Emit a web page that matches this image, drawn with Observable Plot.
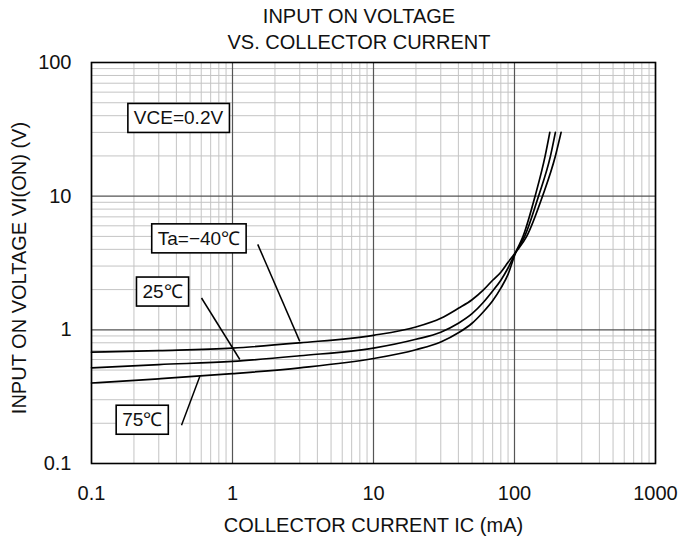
<!DOCTYPE html>
<html><head><meta charset="utf-8">
<script src="https://cdn.jsdelivr.net/npm/d3@7"></script>
<script src="https://cdn.jsdelivr.net/npm/@observablehq/plot@0.6"></script>
<style>
body{margin:0;background:#fff;font-family:"Liberation Sans",Arial,sans-serif;}
#wrap{position:relative;width:681px;height:544px;overflow:hidden;}
#title{position:absolute;left:0;top:3px;width:718px;text-align:center;font-size:20px;line-height:26px;color:#111;}
#chart{position:absolute;left:0;top:50px;}
</style></head><body>
<div id="wrap"><div id="title">INPUT ON VOLTAGE<br>VS. COLLECTOR CURRENT</div><div id="chart"></div></div>
<script>
// Series: collector current IC (mA) and input on voltage VI(ON) (V)
const seriesNames = ["Ta=−40℃", "25℃", "75℃"];
const currentM40 = [0.1, 0.3, 1, 3, 10, 20, 30, 40, 50, 60, 70, 80, 90, 102, 122, 158, 195, 214];
const voltM40    = [0.68, 0.70, 0.73, 0.80, 0.91, 1.05, 1.22, 1.45, 1.68, 1.98, 2.35, 2.7, 3.2, 3.8, 5.0, 10, 20, 30];
const current25  = [0.1, 0.3, 1, 3, 10, 20, 30, 40, 50, 60, 70, 80, 90, 102, 118, 148, 180, 195];
const volt25     = [0.52, 0.55, 0.58, 0.64, 0.73, 0.85, 0.96, 1.12, 1.32, 1.6, 1.95, 2.35, 2.9, 3.8, 5.0, 10, 20, 30];
const current75  = [0.1, 0.3, 1, 3, 10, 20, 30, 40, 50, 60, 70, 80, 90, 102, 115, 140, 165, 178];
const volt75     = [0.40, 0.43, 0.47, 0.52, 0.61, 0.71, 0.81, 0.95, 1.12, 1.36, 1.65, 2.05, 2.6, 3.8, 5.0, 10, 20, 30];

// Axis ticks
const xTicks = [0.1, 1, 10, 100, 1000];
const yTicks = [0.1, 1, 10, 100];
const xDecades = [0.1, 1, 10, 100];
const yDecades = [0.1, 1, 10];
const minorSteps = [2, 3, 4, 5, 6, 7, 8, 9];

// Annotations
const labelText = ["VCE=0.2V", "Ta=−40℃", "25℃", "75℃"];
const labelI = [0.414, 0.578, 0.319, 0.229];
const labelV = [38.2, 4.8, 1.92, 0.211];
const leaderI1 = [1.51, 0.603, 0.435];
const leaderV1 = [4.36, 1.73, 0.193];
const leaderI2 = [3.0, 1.127, 0.587];
const leaderV2 = [0.82, 0.60, 0.449];

const rows = [];
[[currentM40, voltM40], [current25, volt25], [current75, volt75]].forEach(([cs, vs], k) => {
  cs.forEach((c, i) => rows.push({series: seriesNames[k], ic: c, v: vs[i]}));
});
const minorX = xDecades.flatMap(d => minorSteps.map(s => s * d));
const minorY = yDecades.flatMap(d => minorSteps.map(s => s * d));
const labels = labelText.map((t, i) => ({t, x: labelI[i], y: labelV[i]}));
const leaders = leaderI1.map((_, i) => ({x1: leaderI1[i], y1: leaderV1[i], x2: leaderI2[i], y2: leaderV2[i]}));

const svg = Plot.plot({
  width: 681, height: 494,
  marginTop: 12, marginBottom: 81, marginLeft: 91, marginRight: 26,
  style: {fontFamily: '"Liberation Sans", Arial, sans-serif', fontSize: "20px", color: "#111", background: "white"},
  x: {type: "log", domain: [0.1, 1000]},
  y: {type: "log", domain: [0.1, 100]},
  marks: [
    Plot.ruleX(minorX, {stroke: "#c4c4c4", strokeWidth: 1}),
    Plot.ruleY(minorY, {stroke: "#c4c4c4", strokeWidth: 1}),
    Plot.ruleX(xTicks, {stroke: "#555", strokeWidth: 1.2}),
    Plot.ruleY(yTicks, {stroke: "#555", strokeWidth: 1.2}),
    Plot.axisX({ticks: xTicks, tickSize: 0, tickPadding: 22, tickFormat: d => String(d), label: null, fontSize: 20}),
    Plot.axisY({ticks: yTicks, tickSize: 0, tickPadding: 20, tickFormat: d => String(d), label: null, fontSize: 20}),
    Plot.line(rows, {x: "ic", y: "v", z: "series", stroke: "black", strokeWidth: 1.7, curve: "monotone-x"}),
    Plot.link(leaders, {x1: "x1", y1: "y1", x2: "x2", y2: "y2", stroke: "black", strokeWidth: 1.5}),
    Plot.text(labels, {x: "x", y: "y", text: "t", fontSize: 19, fill: "#111"}),
    Plot.text(["COLLECTOR CURRENT IC (mA)"], {frameAnchor: "bottom", dy: 68, fontSize: 20, fill: "#111"}),
    Plot.text(["INPUT ON VOLTAGE VI(ON) (V)"], {frameAnchor: "left", textAnchor: "middle", dx: -72, dy: 5, rotate: -90, fontSize: 20, fill: "#111"}),
    Plot.frame({stroke: "black", strokeWidth: 1.6})
  ]
});
document.getElementById("chart").append(svg);
const svgBox = svg.getBoundingClientRect();
svg.querySelectorAll("text").forEach(t => {
  if (!labelText.includes(t.textContent)) return;
  const b = t.getBoundingClientRect();
  const r = document.createElementNS("http://www.w3.org/2000/svg", "rect");
  r.setAttribute("x", b.left - svgBox.left - 6);
  r.setAttribute("y", b.top - svgBox.top - 4);
  r.setAttribute("width", b.width + 12);
  r.setAttribute("height", b.height + 8);
  r.setAttribute("fill", "white");
  r.setAttribute("stroke", "black");
  r.setAttribute("stroke-width", 1.6);
  const g = t.parentNode;
  g.parentNode.insertBefore(r, g);
});
</script>
</body></html>
